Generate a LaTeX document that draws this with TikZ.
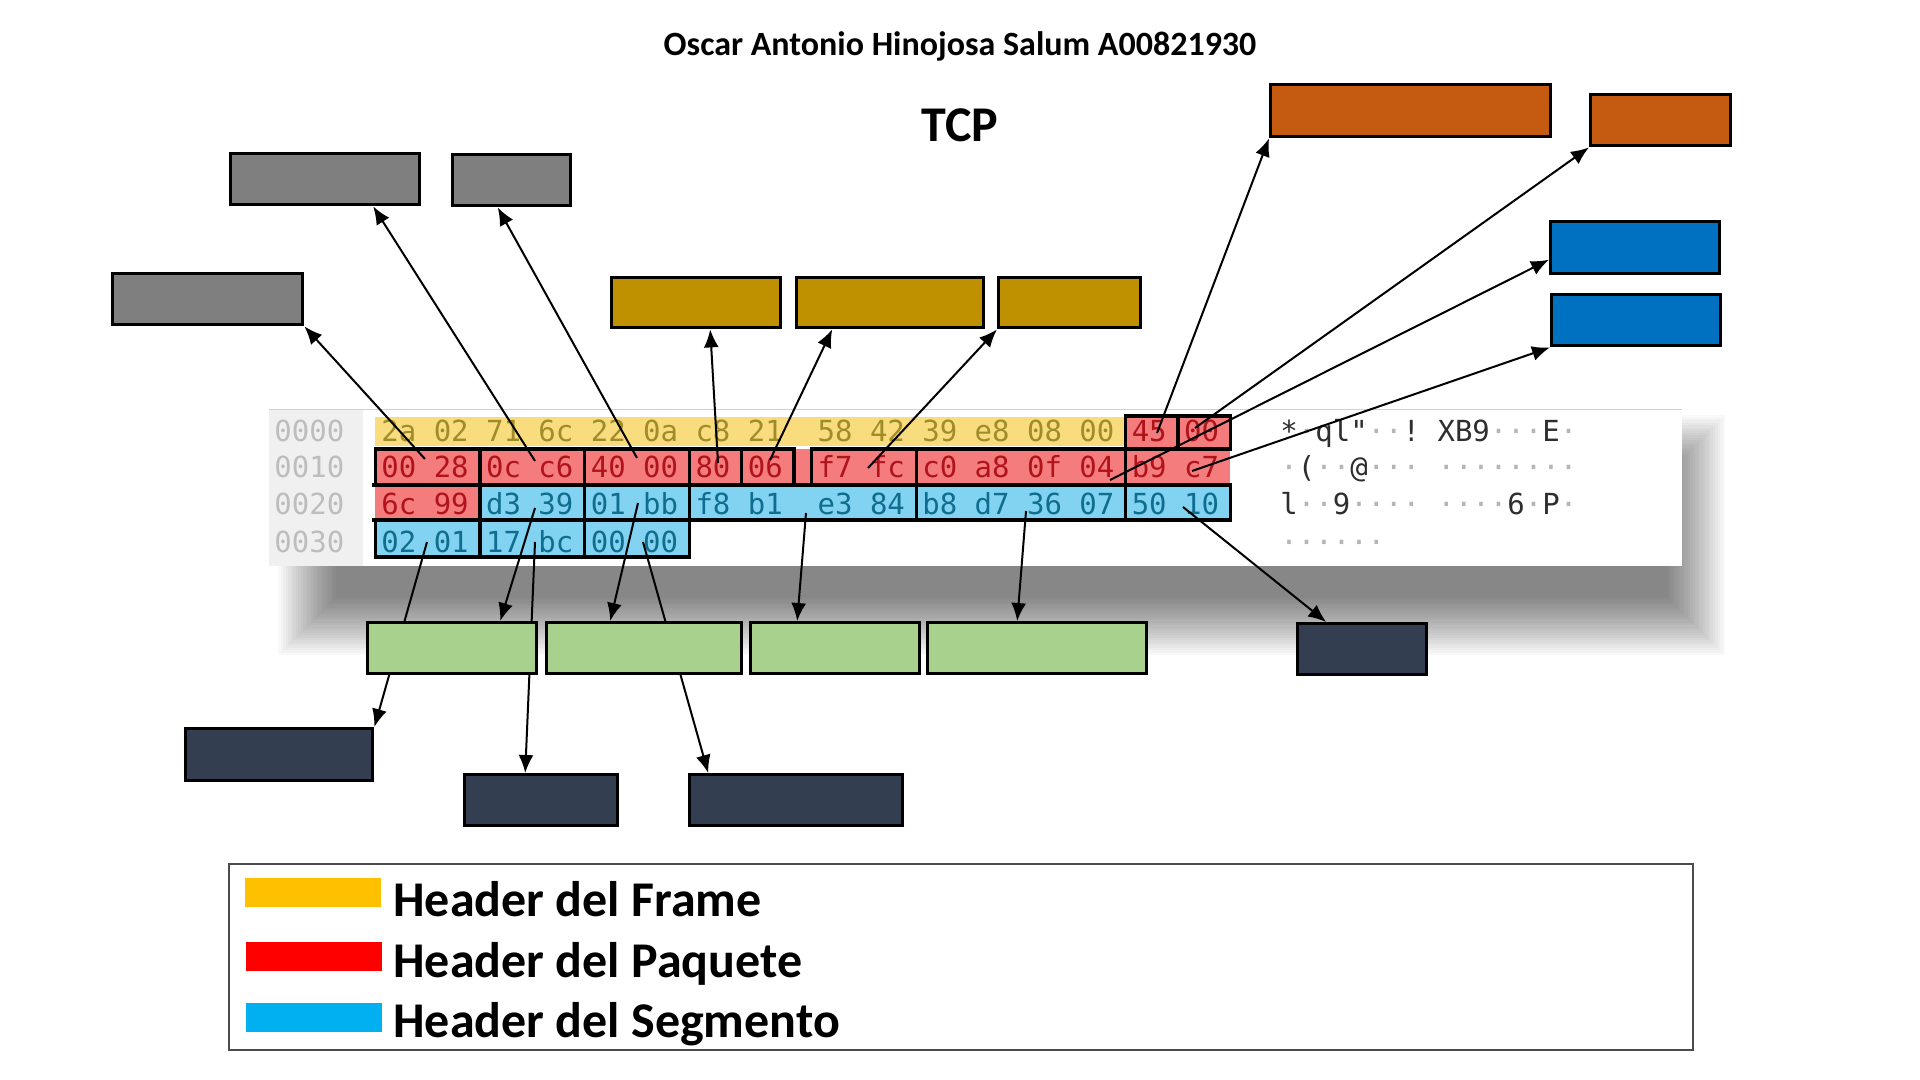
\documentclass[tikz,border=0pt]{standalone}
\usepackage{fontspec}
\setmainfont{Carlito}
\newfontfamily\hexfont{DejaVu Sans Mono}
\usetikzlibrary{arrows.meta}

\definecolor{frameBand}{HTML}{F9DC7E}
\definecolor{frameText}{HTML}{A08C28}
\definecolor{paqBand}{HTML}{F47C7C}
\definecolor{paqText}{HTML}{B0141A}
\definecolor{segBand}{HTML}{82D3F1}
\definecolor{segText}{HTML}{0F6D8F}
\definecolor{offText}{HTML}{BDBDBD}
\definecolor{ascText}{HTML}{2E2E2E}
\definecolor{ascDot}{HTML}{B5B5B5}
\definecolor{boxGray}{HTML}{7F7F7F}
\definecolor{boxGold}{HTML}{BF9000}
\definecolor{boxOrange}{HTML}{C55A11}
\definecolor{boxBlue}{HTML}{0070C0}
\definecolor{boxGreen}{HTML}{A9D18E}
\definecolor{boxDark}{HTML}{333F50}
\definecolor{legFrame}{HTML}{FFC000}
\definecolor{legPaq}{HTML}{FF0000}
\definecolor{legSeg}{HTML}{00B0F0}

\newcommand\ad{{\color{ascDot}·}}

\pgfdeclarelayer{dump}
\pgfdeclarelayer{arrows}
\pgfsetlayers{dump,arrows,main}

\tikzset{
    field/.style 2 args={draw=black, line width=1.7pt, inner sep=0pt,
        anchor=north west, minimum width=#1*0.5pt, minimum height=#2*0.5pt},
    group/.style={draw=black, line width=1.6pt},
    link/.style={line width=1pt, -{Latex[length=9pt,width=7.5pt]}},
    hexbyte/.style={anchor=base west, inner sep=0pt,
        font=\hexfont\fontsize{14.5}{17}\selectfont},
    hexoff/.style={hexbyte, text=offText},
    ascii/.style={hexbyte, text=ascText},
    swatch/.style={anchor=north west, inner sep=0pt, minimum width=68pt,
        minimum height=14.5pt},
    legtext/.style={anchor=base west, inner sep=0pt,
        font=\fontsize{25}{30}\selectfont\bfseries}
}

\begin{document}
\begin{tikzpicture}[x=0.5pt, y=-0.5pt]
    \useasboundingbox (0,0) rectangle (1920,1080);

    % Titles
    \node[anchor=base, font=\fontsize{17}{20}\selectfont\bfseries] (title)
        at (960,56) {Oscar Antonio Hinojosa Salum A00821930};
    \node[anchor=base, font=\fontsize{25}{30}\selectfont\bfseries] (tcp)
        at (960,142) {TCP};

    \begin{pgfonlayer}{dump}
    \fill[white] (0,0) rectangle (1920,1080);
    % Hex dump panel with its shadow
    \foreach \k in {0,...,23}
        \fill[black, opacity=0.024] (278+2.5*\k,415+2.5*\k) rectangle (1725-2.5*\k,655-2.5*\k);
    \fill[white] (269,409) rectangle (1682,566);
    \fill[black!6] (269,409) rectangle (363,566);
    \draw[black!18] (269,409) -- (1682,409);

    % Header bands
    \fill[frameBand] (375,417) rectangle (1126,446);
    \fill[paqBand] (1126,416) rectangle (1230,449);
    \fill[paqBand] (375,449) rectangle (1230,485);
    \fill[paqBand] (375,485) rectangle (480,520);
    \fill[segBand] (480,485) rectangle (1230,520);
    \fill[segBand] (375,520) rectangle (689,557);

    % Bytes
    \foreach \r/\ry/\n/\ca/\cb/\row in {
        0/441/14/frameText/paqText/{2a,02,71,6c,22,0a,c8,21,58,42,39,e8,08,00,45,00},
        1/477/16/paqText/paqText/{00,28,0c,c6,40,00,80,06,f7,fc,c0,a8,0f,04,b9,c7},
        2/514/2/paqText/segText/{6c,99,d3,39,01,bb,f8,b1,e3,84,b8,d7,36,07,50,10},
        3/552/0/segText/segText/{02,01,17,bc,00,00}}
    {
        \node[hexoff] (off\r) at (274,\ry) {00\r0};
        \foreach \b [count=\i from 0] in \row {
            \ifnum\i<\n \def\tc{\ca}\else\def\tc{\cb}\fi
            \pgfmathsetmacro\bx{381+52.35*\i+17.45*(\i>7)}
            \node[hexbyte, text=\tc] (b\r-\i) at (\bx,\ry) {\b};
        }
    }

    % ASCII column
    \node[ascii] (asc0) at (1280,441) {*\ad{}ql"\ad\ad{}!\ XB9\ad\ad\ad{}E\ad};
    \node[ascii] (asc1) at (1280,477) {\ad(\ad\ad@\ad\ad\ad\ \ad\ad\ad\ad\ad\ad\ad\ad};
    \node[ascii] (asc2) at (1280,514) {l\ad\ad{}9\ad\ad\ad\ad\ \ad\ad\ad\ad{}6\ad{}P\ad};
    \node[ascii] (asc3) at (1280,552) {\ad\ad\ad\ad\ad\ad};

    % Field groups
    \foreach \r/\a/\b in {0/14/14, 0/15/15, 1/0/1, 1/2/3, 1/4/5, 1/6/6, 1/7/7,
        1/8/9, 1/10/13, 2/2/3, 2/4/5, 2/6/9, 2/10/13, 2/14/15,
        3/0/1, 3/2/3, 3/4/5}
    {
        \pgfmathsetmacro\xa{384+52.35*\a+17.45*(\a>7)-8.7}
        \pgfmathsetmacro\xb{384+52.35*\b+17.45*(\b>7)+43.6}
        \pgfmathsetmacro\yt{{416,449,485,520}[\r]}
        \pgfmathsetmacro\yb{{449,485,520,557}[\r]}
        \draw[group] (\xa,\yt) rectangle (\xb,\yb);
    }
    \draw[group] (1125.6,449) -- (1125.6,485);
    \draw[group] (372,485) -- (480,485) (372,520) -- (480,520);
    \end{pgfonlayer}

    % Field boxes
    \foreach \n/\c/\x/\y/\w/\h in {
        lTotal/boxGray/111/272/190/51, lId/boxGray/229/152/189/51,
        lFlags/boxGray/451/153/118/51, lTtl/boxGold/610/276/169/50,
        lProto/boxGold/795/276/187/50, lChk/boxGold/997/276/142/50,
        lVer/boxOrange/1269/83/280/52, lTos/boxOrange/1589/93/140/51,
        lSrc/boxBlue/1549/220/169/52, lDst/boxBlue/1550/293/169/51,
        lSrcPort/boxGreen/366/621/169/51, lDstPort/boxGreen/545/621/195/51,
        lSeq/boxGreen/749/621/169/51, lAck/boxGreen/926/621/219/51,
        lHlen/boxDark/1296/622/129/51, lWin/boxDark/184/727/187/52,
        lSum/boxDark/463/773/153/51, lUrg/boxDark/688/773/213/51}
        \node[field={\w}{\h}, fill=\c] (\n) at (\x,\y) {};

    % Start points of the arrows
    \foreach \p/\x/\y in {pTotal/425/459, pId/535/461, pFlags/637/458,
        pTtl/718/463, pProto/770/460, pChk/868/468, pVer/1157/433,
        pTos/1195/428, pSrc/1110/480, pDst/1192/471, sHlen/1183/507,
        sAck/1026/511, sSeq/806/513, sDstPort/638/503, sSrcPort/535/508,
        sWin/427/542, sSum/535/542, sUrg/643/542}
        \coordinate (\p) at (\x,\y);

    % Arrows
    \begin{pgfonlayer}{arrows}
    \foreach \s/\t/\dx/\dy in {pTotal/lTotal.south east/0/0,
        pId/lId.south/24/0, pFlags/lFlags.south/-7/0, pTtl/lTtl.south/7/0,
        pProto/lProto.south/-29/0, pChk/lChk.south west/0/0,
        pVer/lVer.south west/0/0, pTos/lTos.south west/0/0,
        pSrc/lSrc.west/0/-6, pDst/lDst.south west/0/0,
        sHlen/lHlen.north/-18/0, sAck/lAck.north/-10/0,
        sSeq/lSeq.north/-19/0, sDstPort/lDstPort.north/-17/0,
        sSrcPort/lSrcPort.north/24/0, sWin/lWin.north east/0/0,
        sSum/lSum.north/-8/0, sUrg/lUrg.north/-44/0}
        \draw[link] (\s) -- ([xshift=\dx pt, yshift=\dy pt]\t);
    \end{pgfonlayer}

    % Legend
    \node[draw=black!70, line width=1pt, inner sep=0pt, anchor=north west,
        minimum width=732pt, minimum height=93pt] (legend) at (228,863) {};
    \node[swatch, fill=legFrame] (kFrame) at (245,878) {};
    \node[swatch, fill=legPaq] (kPaq) at (246,942) {};
    \node[swatch, fill=legSeg] (kSeg) at (246,1003) {};
    \node[legtext] (tFrame) at (393,916) {Header del Frame};
    \node[legtext] (tPaq) at (393,977) {Header del Paquete};
    \node[legtext] (tSeg) at (393,1037) {Header del Segmento};

\end{tikzpicture}
\end{document}
